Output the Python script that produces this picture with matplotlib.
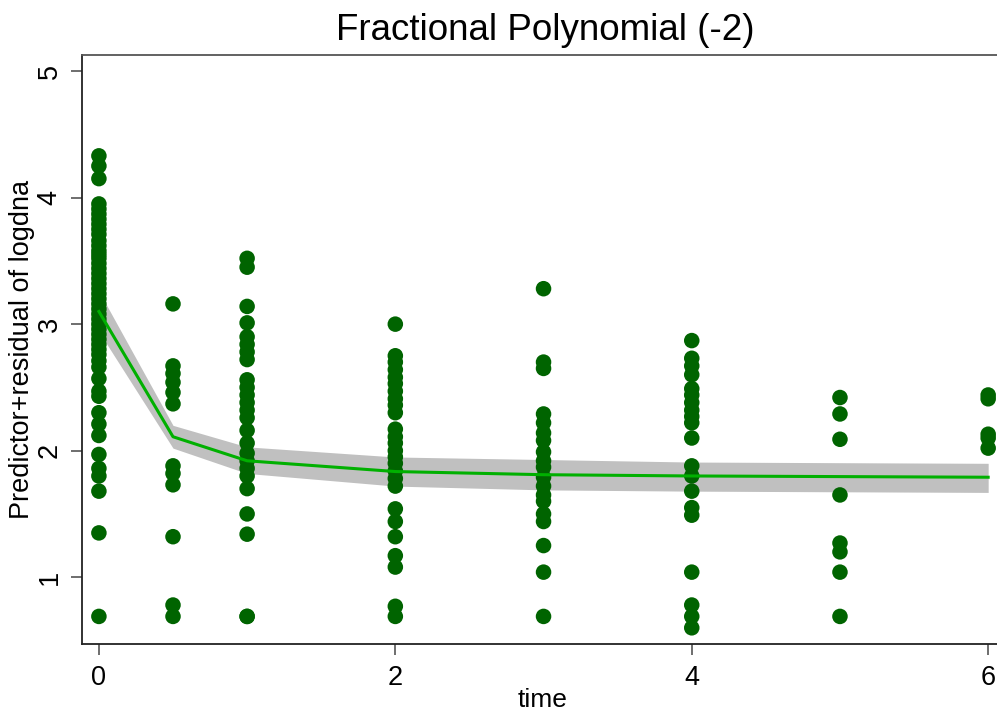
import matplotlib
matplotlib.use("Agg")
import matplotlib.pyplot as plt
import numpy as np

plt.rcParams['font.family'] = ['Liberation Sans', 'DejaVu Sans']

# observed values (predictor + residual) per time point
t00 = [4.33, 4.25, 4.15, 3.95, 3.91, 3.87, 3.83, 3.79, 3.75, 3.71, 3.66, 3.62, 3.58,
       3.55, 3.52, 3.48, 3.44, 3.40, 3.36, 3.32, 3.28, 3.24, 3.20, 3.16, 3.12, 3.08,
       3.04, 3.00, 2.96, 2.92, 2.88, 2.84, 2.80, 2.76, 2.71, 2.66, 2.57, 2.47, 2.43,
       2.30, 2.21, 2.12, 1.97, 1.86, 1.80, 1.68, 1.35, 0.69]
t05 = [3.16, 2.67, 2.61, 2.54, 2.46, 2.37, 1.88, 1.82, 1.73, 1.32, 0.78, 0.69]
t10 = [3.52, 3.45, 3.14, 3.01, 2.90, 2.84, 2.78, 2.72, 2.56, 2.50, 2.44, 2.38, 2.32,
       2.26, 2.16, 2.06, 1.98, 1.92, 1.86, 1.80, 1.70, 1.50, 1.34, 0.69, 0.69]
t20 = [3.00, 2.75, 2.70, 2.64, 2.58, 2.53, 2.47, 2.41, 2.36, 2.30, 2.17, 2.11, 2.06,
       2.00, 1.95, 1.90, 1.84, 1.78, 1.72, 1.54, 1.44, 1.32, 1.17, 1.08, 0.77, 0.69]
t30 = [3.28, 2.70, 2.65, 2.29, 2.22, 2.14, 2.08, 1.99, 1.92, 1.87, 1.79, 1.72, 1.65,
       1.60, 1.50, 1.44, 1.25, 1.04, 0.69]
t40 = [2.87, 2.73, 2.67, 2.60, 2.49, 2.44, 2.38, 2.32, 2.27, 2.22, 2.10, 1.88, 1.80,
       1.68, 1.55, 1.49, 1.04, 0.78, 0.69, 0.60]
t50 = [2.42, 2.29, 2.09, 1.65, 1.27, 1.20, 1.04, 0.69]
t60 = [2.44, 2.41, 2.13, 2.10, 2.02]

times = [0, 0.5, 1, 2, 3, 4, 5, 6]
groups = [t00, t05, t10, t20, t30, t40, t50, t60]

# fitted FP(-2) curve and confidence band
fit = [3.10, 2.11, 1.92, 1.835, 1.81, 1.80, 1.795, 1.79]
ci_lo = [2.94, 2.02, 1.82, 1.72, 1.69, 1.68, 1.675, 1.67]
ci_hi = [3.26, 2.20, 2.03, 1.95, 1.93, 1.91, 1.905, 1.90]

x = []
y = []
for tm, vals in zip(times, groups):
    x += [tm] * len(vals)
    y += vals

fig = plt.figure(figsize=(9.97, 7.13), dpi=100)
ax = fig.add_axes([82 / 997, (713 - 644) / 713, (1003 - 82) / 997, (644 - 55) / 713])

ax.fill_between(times, ci_lo, ci_hi, color='#c0c0c0', lw=0, zorder=1)
ax.scatter(x, y, s=125, color='#006400', edgecolors='none', zorder=2)
ax.plot(times, fit, color='#00b000', lw=2.2, zorder=3)

ax.set_xlim(-0.114, 6.1)
ax.set_ylim(0.472, 5.127)
ax.set_xticks([0, 2, 4, 6])
ax.set_yticks([1, 2, 3, 4, 5])
ax.tick_params(axis='both', labelsize=19.5, length=8, width=1.2, color='#555555', pad=7)
ax.tick_params(axis='y', pad=6)
plt.setp(ax.get_yticklabels(), rotation=90, va='center')

for side in ['top', 'right']:
    ax.spines[side].set_color('#555555')
for side in ['left', 'bottom']:
    ax.spines[side].set_color('#222222')
for sp in ax.spines.values():
    sp.set_linewidth(1.3)

ax.set_xlabel('time', fontsize=19, labelpad=-2)
ax.set_ylabel('Predictor+residual of logdna', fontsize=19.5, labelpad=1)
fig.text(545 / 997, 1 - 31 / 713, 'Fractional Polynomial (-2)', fontsize=26.5,
         ha='center', va='center')

fig.savefig('out.png', dpi=100)
